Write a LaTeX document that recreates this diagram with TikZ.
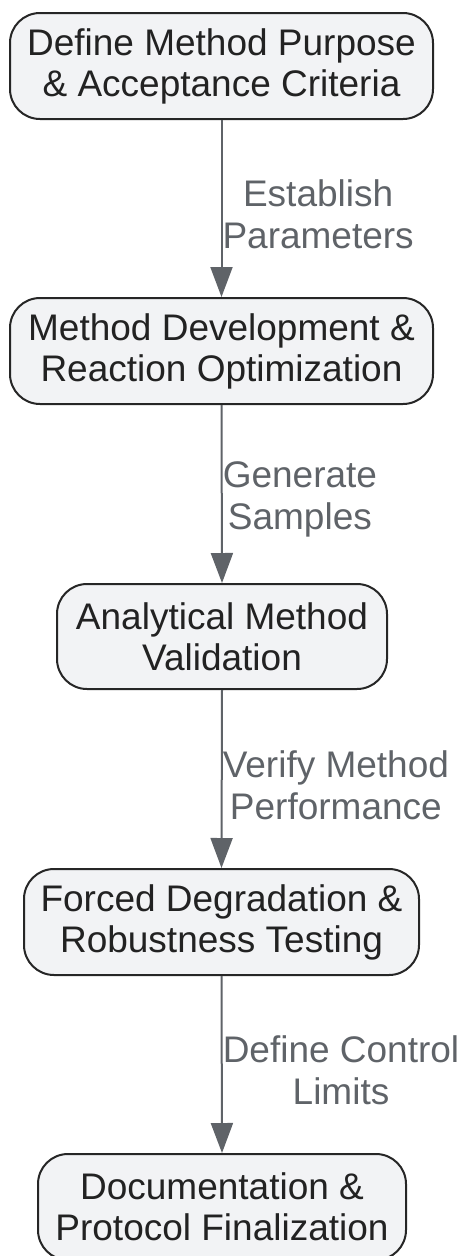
\documentclass[tikz,border=0pt]{standalone}
\usepackage{fontspec}
\setmainfont{Liberation Sans}
\usetikzlibrary{arrows.meta}
\definecolor{nodefill}{HTML}{F2F3F5}
\definecolor{nodeline}{HTML}{262626}
\definecolor{nodetext}{HTML}{222222}
\definecolor{edgecol}{HTML}{5F6368}
\tikzset{
  stepbox/.style={draw=nodeline, line width=2pt, fill=nodefill, rounded corners=30pt,
    text=nodetext, align=center, inner sep=0pt, minimum height=106pt,
    font=\fontsize{37}{41}\selectfont},
  arr/.style={draw=edgecol, line width=2pt, -{Triangle[length=30pt,width=22pt]}},
  lbl/.style={text=edgecol, align=center, inner sep=0pt, anchor=west,
    font=\fontsize{37}{42}\selectfont}
}
\begin{document}
\begin{tikzpicture}[x=1pt,y=-1pt]
\useasboundingbox (0,0) rectangle (459,1256);
\node[stepbox, minimum width=423pt] (b1) at (221.5,66) {Define Method Purpose\\\& Acceptance Criteria};
\node[stepbox, minimum width=423pt] (b2) at (221.5,351) {Method Development \&\\Reaction Optimization};
\node[stepbox, minimum width=330pt, minimum height=105pt] (b3) at (222,636.5) {Analytical Method\\Validation};
\node[stepbox, minimum width=395pt] (b4) at (221.5,922) {Forced Degradation \&\\Robustness Testing};
\node[stepbox, minimum width=368pt] (b5) at (222,1207) {Documentation \&\\Protocol Finalization};
\draw[arr] (b1.south) -- (b2.north) node[lbl, midway, yshift=-6pt] {Establish\\Parameters};
\draw[arr] (b2.south) -- (b3.north) node[lbl, midway, yshift=-5pt] {Generate\\Samples};
\draw[arr] (b3.south) -- (b4.north) node[lbl, midway, yshift=-6pt] {Verify Method\\Performance};
\draw[arr] (b4.south) -- (b5.north) node[lbl, midway, yshift=-6pt] {Define Control\\Limits};
\end{tikzpicture}
\end{document}
